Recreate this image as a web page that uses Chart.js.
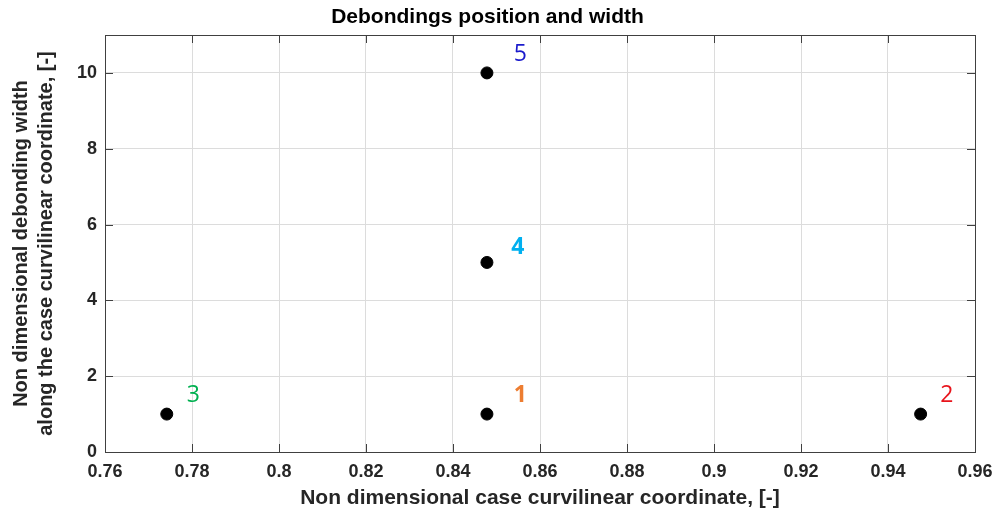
<!DOCTYPE html>
<html>
<head>
<meta charset="utf-8">
<script src="https://cdn.jsdelivr.net/npm/chart.js@4"></script>
<style>
  html, body { margin: 0; padding: 0; background: #fff; }
  #wrap { width: 997px; height: 515px; }
</style>
</head>
<body>
<div id="wrap"><canvas id="chart" width="997" height="515"></canvas></div>
<script>
// Debonding data: position (x) and width (y)
const debondX = [0.8478, 0.9475, 0.7742, 0.8478, 0.8478];
const debondY = [1, 1, 1, 5, 10];
const debondNames = ["1", "2", "3", "4", "5"];
const nameColors = ["#ED7D31", "#E8141C", "#00B050", "#00B0F0", "#1A1ACC"];
const nameBold = [true, false, false, true, false];
// where each number label sits (data coordinates)
const nameX = [0.8555, 0.9535, 0.7803, 0.8549, 0.8555];
const nameY = [1.5, 1.5, 1.5, 5.4, 10.5];

// Axis ticks
const xTicks = [0.76, 0.78, 0.8, 0.82, 0.84, 0.86, 0.88, 0.9, 0.92, 0.94, 0.96];
const yTicks = [0, 2, 4, 6, 8, 10];

const points = debondX.map((x, i) => ({ x: x, y: debondY[i] }));

// Box, inward ticks and number labels (MATLAB look)
const matlabBox = {
    id: "matlabBox",
    afterDatasetsDraw(chart) {
        const { ctx, chartArea: a, scales } = chart;
        ctx.save();
        ctx.strokeStyle = "#404040";
        ctx.lineWidth = 1;
        ctx.strokeRect(a.left + 0.5, a.top + 0.5, a.right - a.left, a.bottom - a.top);

        ctx.beginPath();
        xTicks.forEach((v) => {
            const px = Math.round(scales.x.getPixelForValue(v)) + 0.5;
            ctx.moveTo(px, a.bottom); ctx.lineTo(px, a.bottom - 8);
            ctx.moveTo(px, a.top); ctx.lineTo(px, a.top + 8);
        });
        yTicks.forEach((v) => {
            const py = Math.round(scales.y.getPixelForValue(v)) + 0.5;
            ctx.moveTo(a.left, py); ctx.lineTo(a.left + 8, py);
            ctx.moveTo(a.right, py); ctx.lineTo(a.right - 8, py);
        });
        ctx.stroke();

        ctx.textAlign = "center";
        ctx.textBaseline = "middle";
        debondNames.forEach((name, i) => {
            ctx.fillStyle = nameColors[i];
            ctx.font = (nameBold[i] ? "bold " : "") + "23px 'Open Sans', sans-serif";
            ctx.fillText(name, scales.x.getPixelForValue(nameX[i]), scales.y.getPixelForValue(nameY[i]));
        });
        ctx.restore();
    },
};

const fontFamily = "'Liberation Sans', Arial, sans-serif";
const tickFont = { family: fontFamily, size: 18, weight: "bold" };

new Chart(document.getElementById("chart"), {
    type: "scatter",
    data: {
        datasets: [
            {
                data: points,
                backgroundColor: "#000",
                borderColor: "#000",
                pointRadius: 6,
                pointHoverRadius: 6,
            },
        ],
    },
    options: {
        responsive: false,
        animation: false,
        layout: { padding: { left: 0, right: 22, top: 0, bottom: 0 } },
        plugins: {
            legend: { display: false },
            tooltip: { enabled: false },
            title: {
                display: true,
                text: "Debondings position and width",
                color: "#000",
                font: { family: fontFamily, size: 21, weight: "bold" },
                padding: { top: 5, bottom: 4.8 },
            },
        },
        scales: {
            x: {
                type: "linear",
                min: 0.76,
                max: 0.96,
                afterBuildTicks: (s) => { s.ticks = xTicks.map((v) => ({ value: v })); },
                afterFit: (s) => {
                    s.height = 63;
                    s.paddingLeft = 0;
                    s.paddingRight = 0;
                },
                grid: { color: "#dcdcdc", drawTicks: false },
                border: { display: false },
                ticks: {
                    color: "#262626",
                    font: tickFont,
                    padding: 9,
                    maxRotation: 0,
                    callback: (v) => String(Number(v.toFixed(2))),
                },
                title: {
                    display: true,
                    text: "Non dimensional case curvilinear coordinate, [-]",
                    color: "#262626",
                    font: { family: fontFamily, size: 21, weight: "bold" },
                    padding: { top: 0, bottom: 4.4 },
                },
            },
            y: {
                type: "linear",
                min: 0,
                max: 11,
                afterBuildTicks: (s) => { s.ticks = yTicks.map((v) => ({ value: v })); },
                afterFit: (s) => { s.width = 105; },
                grid: { color: "#dcdcdc", drawTicks: false },
                border: { display: false },
                ticks: {
                    color: "#262626",
                    font: tickFont,
                    padding: 8,
                },
                title: {
                    display: true,
                    text: ["Non dimensional debonding width", "along the case curvilinear coordinate, [-]"],
                    color: "#262626",
                    font: { family: fontFamily, size: 20, weight: "bold", lineHeight: 1.25 },
                    padding: { top: 9, bottom: 0 },
                },
            },
        },
    },
    plugins: [matlabBox],
});
</script>
</body>
</html>
